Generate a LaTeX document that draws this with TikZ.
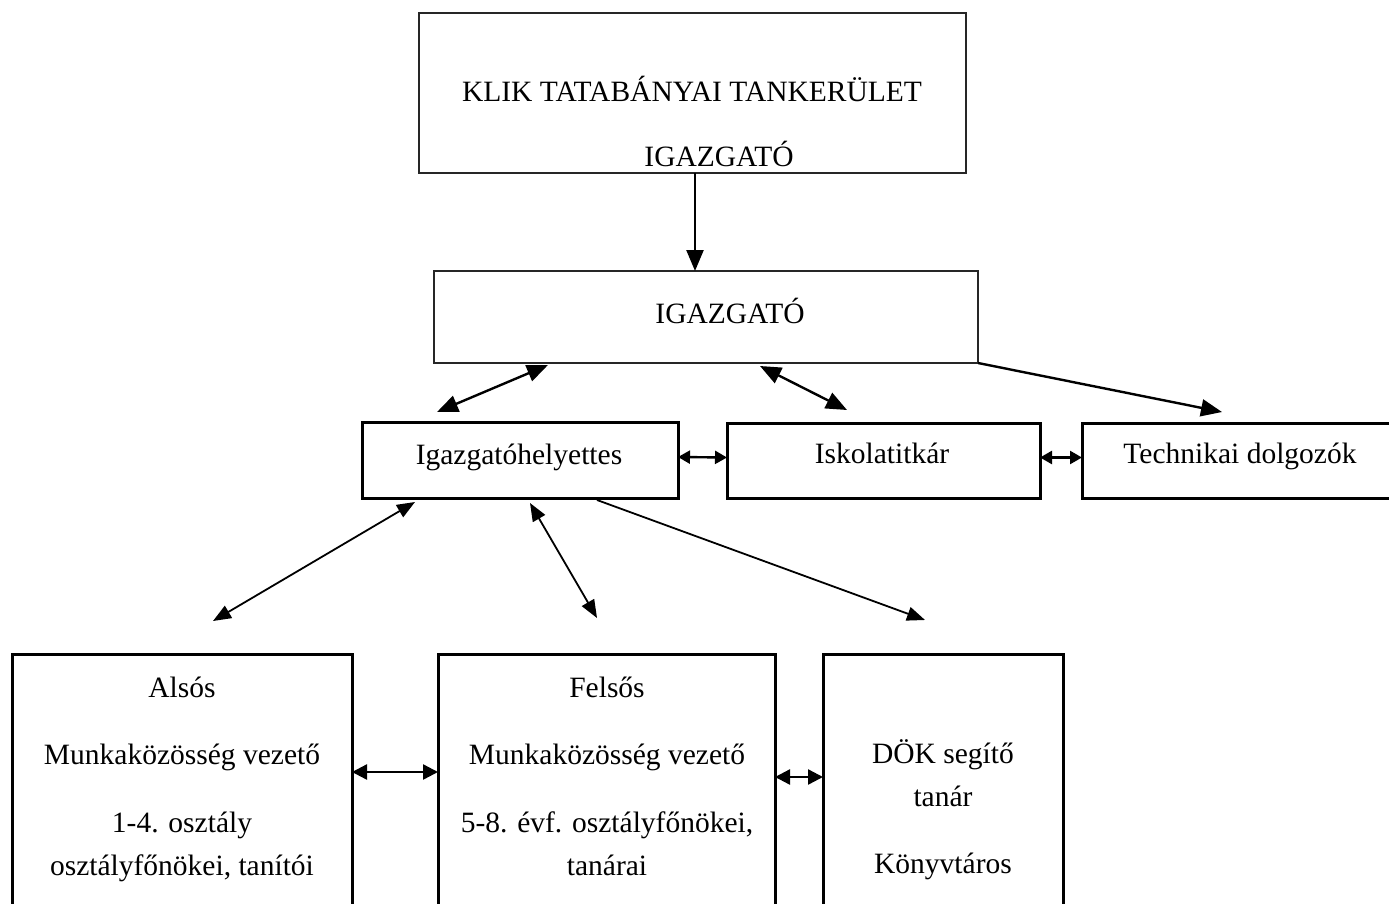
\documentclass[tikz,border=0pt]{standalone}
\usepackage{fontspec}
\setmainfont{Liberation Serif}
\usetikzlibrary{arrows.meta}
\begin{document}
\begin{tikzpicture}[x=1pt,y=-1pt,
  thinbox/.style={draw=black!85,line width=2pt,inner sep=0pt,outer sep=0pt,anchor=north west},
  thickbox/.style={draw,line width=3pt,inner sep=0pt,outer sep=0pt,anchor=north west},
  txt/.style={font=\fontsize{29.5}{35}\selectfont,anchor=base,inner sep=0pt},
  conn/.style={line width=2.4pt},
  thinconn/.style={line width=1.8pt},
  bighead/.style={{Triangle[length=21pt,width=17pt]}-{Triangle[length=21pt,width=17pt]}},
  bigend/.style={-{Triangle[length=21pt,width=17pt]}},
  midhead/.style={{Triangle[length=18pt,width=14pt]}-{Triangle[length=18pt,width=14pt]}},
  midend/.style={-{Triangle[length=18pt,width=14pt]}},
  smallhead/.style={{Triangle[length=12pt,width=13pt]}-{Triangle[length=12pt,width=13pt]}},
  botarrow/.style={{Triangle[length=15pt,width=15pt]}-{Triangle[length=15pt,width=15pt]}}
]
\useasboundingbox (0,0) rectangle (1389,904);
\clip (0,0) rectangle (1389,904);
\fill[white] (0,0) rectangle (1389,904);

% boxes
\node[thinbox,minimum width=547pt,minimum height=160pt] (topb) at (419,13) {};
\node[thinbox,minimum width=544pt,minimum height=92pt] (igazb) at (434,271) {};
\node[thickbox,minimum width=316pt,minimum height=76pt] (helyb) at (362,422) {};
\node[thickbox,minimum width=313pt,minimum height=75pt] (titkb) at (727,423) {};
\node[thickbox,minimum width=330pt,minimum height=75pt] (techb) at (1082,423) {};
\node[thickbox,minimum width=340pt,minimum height=300pt] (alsb) at (12,654) {};
\node[thickbox,minimum width=337pt,minimum height=300pt] (felb) at (438,654) {};
\node[thickbox,minimum width=240pt,minimum height=300pt] (dokb) at (823,654) {};

% texts
\node[txt] (klik) at (692,102) {KLIK TATABÁNYAI TANKERÜLET};
\node[txt] (igt1) at (719,167) {IGAZGATÓ};
\node[txt] (igt2) at (730,323) {IGAZGATÓ};
\node[txt] (helyt) at (519,464) {Igazgatóhelyettes};
\node[txt] (titkt) at (882,463) {Iskolatitkár};
\node[txt] (techt) at (1240,463) {Technikai dolgozók};
\node[txt] (als1) at (182,697) {Alsós};
\node[txt] (als2) at (182,764) {Munkaközösség vezető};
\node[txt] (als3) at (182,832) {1-4. osztály};
\node[txt] (als4) at (182,875) {osztályfőnökei, tanítói};
\node[txt] (fel1) at (607,697) {Felsős};
\node[txt] (fel2) at (607,764) {Munkaközösség vezető};
\node[txt] (fel3) at (607,832) {5-8. évf. osztályfőnökei,};
\node[txt] (fel4) at (607,875) {tanárai};
\node[txt] (dok1) at (943,763) {DÖK segítő};
\node[txt] (dok2) at (943,806) {tanár};
\node[txt] (dok3) at (943,873) {Könyvtáros};

% connectors
\draw[conn,bigend] ([xshift=276pt]topb.south west) -- ([xshift=261pt]igazb.north west);
\draw[conn,bighead] ([xshift=114pt,yshift=-2pt]igazb.south west) -- ([xshift=75pt,yshift=10pt]helyb.north west);
\draw[conn,bighead] ([xshift=326pt,yshift=-3pt]igazb.south west) -- ([xshift=120pt,yshift=13pt]titkb.north west);
\draw[conn,bigend] (igazb.south east) -- ([xshift=140pt,yshift=11pt]techb.north west);
\draw[conn,smallhead] ([yshift=3pt]helyb.east) -- ([yshift=3pt]titkb.west);
\draw[conn,smallhead] ([yshift=3pt]titkb.east) -- ([yshift=3pt]techb.west);
\draw[thinconn,midhead] ([xshift=53pt,yshift=-4pt]helyb.south west) -- ([xshift=201pt,yshift=33pt]alsb.north west);
\draw[thinconn,midhead] ([xshift=168pt,yshift=-5pt]helyb.south west) -- ([xshift=159pt,yshift=36pt]felb.north west);
\draw[thinconn,midend] ([xshift=235pt,yshift=-2pt]helyb.south west) -- ([xshift=102pt,yshift=34pt]dokb.north west);
\draw[conn,botarrow] ([yshift=-118pt]alsb.north east) -- ([yshift=-118pt]felb.north west);
\draw[conn,botarrow] ([yshift=-123pt]felb.north east) -- ([yshift=-123pt]dokb.north west);
\end{tikzpicture}
\end{document}
